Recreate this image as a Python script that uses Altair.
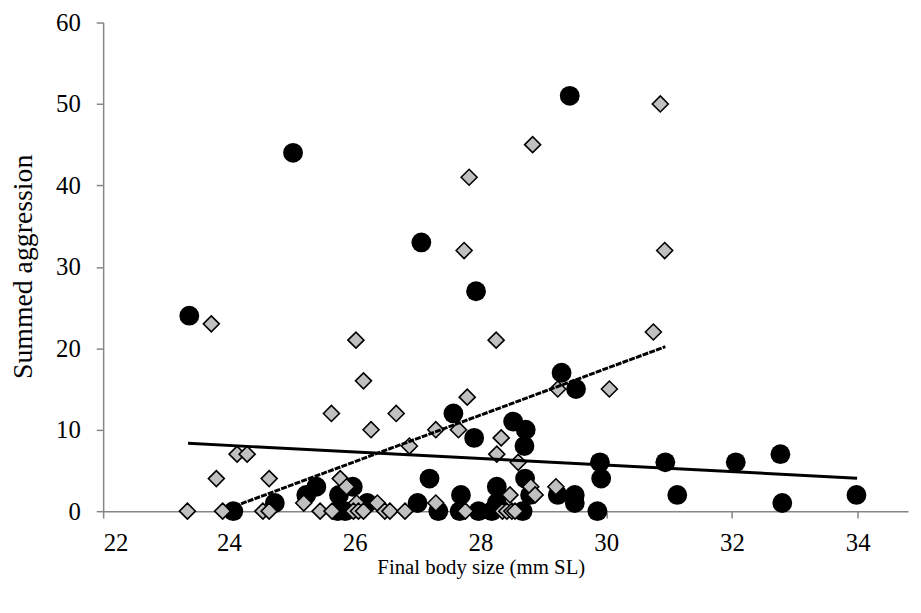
import altair as alt
import pandas as pd

# Black circles
circle_x = [23.37, 25.02, 27.06, 29.42, 27.93, 29.29,
            24.07, 24.73, 25.23, 25.39, 25.75, 25.97, 25.73, 25.85, 26.20,
            27.57, 27.90, 28.52, 28.72, 28.70, 28.71, 28.79,
            27.00, 27.19, 27.33, 27.69, 27.67, 27.97, 28.26, 28.26, 28.18, 28.67,
            29.23, 29.50, 29.50, 29.90, 29.92, 29.86,
            30.94, 31.13, 32.06, 32.77, 32.80, 33.98, 29.52]
circle_y = [24, 44, 33, 51, 27, 17,
            0, 1, 2, 3, 2, 3, 0, 0, 1,
            12, 9, 11, 10, 8, 4, 2,
            1, 4, 0, 2, 0, 0, 3, 1, 0, 0,
            2, 2, 1, 6, 4, 0,
            6, 2, 6, 7, 1, 2, 15]

# Grey diamonds
diamond_x = [23.72, 26.02, 30.86, 28.83, 27.82, 27.74, 30.93, 30.75, 28.25,
             26.14, 25.63, 26.66, 26.26, 27.79, 27.29, 27.65, 28.33, 26.87,
             28.26, 28.60, 28.80, 28.87, 29.20, 29.23, 30.05,
             23.34, 23.80, 24.13, 24.29, 23.90, 24.64, 24.54, 24.64,
             25.19, 25.45, 25.64, 25.77, 25.87, 26.03, 25.98, 26.06, 26.14,
             26.36, 26.48, 26.56, 26.80, 27.29, 27.76, 28.47,
             28.35, 28.42, 28.50, 28.55]
diamond_y = [23, 21, 50, 45, 41, 32, 32, 22, 21,
             16, 12, 12, 10, 14, 10, 10, 9, 8,
             7, 6, 3, 2, 3, 15, 15,
             0, 4, 7, 7, 0, 4, 0, 0,
             1, 0, 0, 4, 3, 1, 0, 0, 0,
             1, 0, 0, 0, 1, 0, 2,
             0, 0, 0, 0]

# Trend lines (end points)
solid_x = [23.35, 33.99]
solid_y = [8.33, 4.05]
dashed_x = [23.98, 30.94]
dashed_y = [0.3, 20.2]

x_ticks = [22, 24, 26, 28, 30, 32, 34]
y_ticks = [0, 10, 20, 30, 40, 50, 60]

FONT = "Liberation Serif"

circles = pd.DataFrame({"x": circle_x, "y": circle_y})
diamonds = pd.DataFrame({"x": diamond_x, "y": diamond_y})
solid = pd.DataFrame({"x": solid_x, "y": solid_y})
dashed = pd.DataFrame({"x": dashed_x, "y": dashed_y})

xscale = alt.Scale(domain=[22, 34.8], nice=False, zero=False)
yscale = alt.Scale(domain=[0, 60], nice=False)

xaxis = alt.Axis(values=x_ticks, title="Final body size (mm SL)", format="d",
                 labelBaseline="alphabetic", labelPadding=33,
                 titleFontSize=21,
                 titleX=381, titleY=63, titleBaseline="alphabetic", titleAnchor="middle")
yaxis = alt.Axis(values=y_ticks, title="Summed aggression", format="d",
                 labelPadding=16, titleFontSize=28,
                 titleX=-80, titleY=246, titleBaseline="middle",
                 titleAngle=-90)

X = alt.X("x:Q", scale=xscale, axis=xaxis)
Y = alt.Y("y:Q", scale=yscale, axis=yaxis)

c_layer = alt.Chart(circles).mark_point(
    shape="circle", filled=True, size=400, color="black", opacity=1
).encode(x=X, y=Y)

d_layer = alt.Chart(diamonds).mark_point(
    shape="diamond", filled=True, size=260, fill="#c0c0c0", stroke="black",
    strokeWidth=1.6, opacity=1, fillOpacity=1, strokeOpacity=1
).encode(x=X, y=Y)

s_layer = alt.Chart(solid).mark_line(color="black", strokeWidth=3).encode(
    x=alt.X("x:Q", scale=xscale), y=alt.Y("y:Q", scale=yscale))

dsh_layer = alt.Chart(dashed).mark_line(
    color="black", strokeWidth=3, strokeDash=[6, 1.2]
).encode(x=alt.X("x:Q", scale=xscale), y=alt.Y("y:Q", scale=yscale))

chart = alt.layer(c_layer, d_layer, s_layer, dsh_layer).properties(
    width=812, height=493,
    background="white",
    autosize=alt.AutoSizeParams(type="none"),
    padding={"left": 96, "top": 12, "right": 5, "bottom": 90},
).configure_view(stroke=None).configure_axis(
    grid=False,
    domainColor="#868686", domainWidth=1.5,
    tickColor="#868686", tickWidth=1.5, tickSize=7,
    labelFont=FONT, labelFontSize=25, labelColor="black",
    titleFont=FONT, titleFontWeight="normal", titleColor="black",
)

chart.save("out.html", embed_options={"renderer": "svg", "actions": False})
